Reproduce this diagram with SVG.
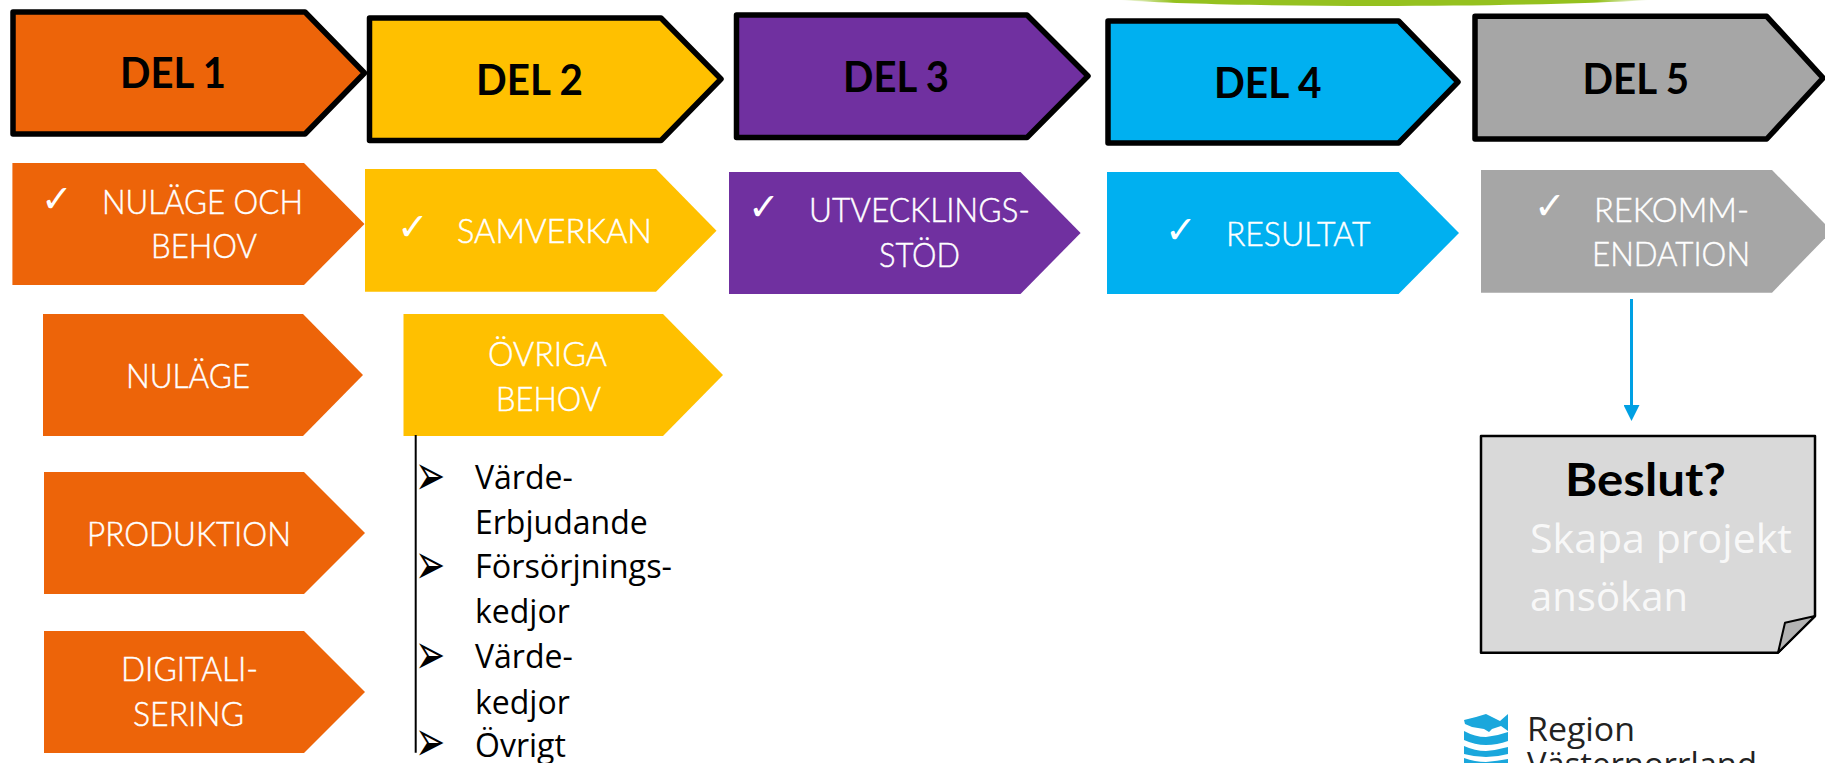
<svg xmlns="http://www.w3.org/2000/svg" width="1825" height="763" viewBox="0 0 1825 763">
<style>
text{font-family:"Lato","Liberation Sans",sans-serif}
.o{fill:#ed6409}.y{fill:#ffc000}.p{fill:#7030a0}.b{fill:#00b0f0}.g{fill:#a6a6a6}
.s{stroke:#000;stroke-width:5.5;stroke-linejoin:round}
.h{font-size:42px;font-weight:700;fill:#000}
.w{font-size:33px;font-weight:300;fill:#fff;stroke:#fff;stroke-width:.45}
.c{font-size:38px;fill:#fff;font-family:"DejaVu Sans",sans-serif}
.l{font-size:32px;fill:#000;font-family:"Open Sans",sans-serif}
.a{font-size:36px;fill:#000;font-family:"DejaVu Sans",sans-serif}
.f{font-size:41px;fill:#f8f8f8;font-family:"Open Sans",sans-serif}
.r{font-size:32px;fill:#222;font-family:"Open Sans",sans-serif}
.wave{fill:#1aa7dc}
</style>
<defs>
<linearGradient id="arc"><stop offset="0" stop-color="#95c11f" stop-opacity="0"/><stop offset=".1" stop-color="#95c11f"/><stop offset=".9" stop-color="#95c11f"/><stop offset="1" stop-color="#95c11f" stop-opacity="0"/></linearGradient>
<marker id="ah" markerUnits="userSpaceOnUse" markerWidth="16" markerHeight="16" refX="0" refY="8" orient="auto"><path d="M0 0L16 8L0 16Z" fill="#00a0e3"/></marker>
</defs>
<rect width="1825" height="763" fill="#fff"/>
<path id="top-arc" d="M1120 0C1230 8 1520 8 1650 0Z" fill="url(#arc)"/>
<g id="del1"><polygon class="o s" points="13,12 305,12 364.5,73 305,134 13,134"/><text class="h" x="120" y="88" textLength="106" lengthAdjust="spacingAndGlyphs">DEL 1</text></g>
<g id="del2"><polygon class="y s" points="369.5,18 661,18 721,79 661,140.5 369.5,140.5"/><text class="h" x="476" y="94.7" textLength="107" lengthAdjust="spacingAndGlyphs">DEL 2</text></g>
<g id="del3"><polygon class="p s" points="736.5,15 1027,15 1088,76 1027,137.5 736.5,137.5"/><text class="h" x="843" y="91.7" textLength="106" lengthAdjust="spacingAndGlyphs">DEL 3</text></g>
<g id="del4"><polygon class="b s" points="1108,21 1398.6,21 1458,82 1398.6,143 1108,143"/><text class="h" x="1214" y="97.7" textLength="107.5" lengthAdjust="spacingAndGlyphs">DEL 4</text></g>
<g id="del5"><polygon class="g s" points="1475,16.3 1766.7,16.3 1823,78 1766.7,139 1475,139"/><text class="h" x="1582.5" y="94" textLength="106.5" lengthAdjust="spacingAndGlyphs">DEL 5</text></g>

<g id="nulage-och-behov"><polygon class="o" points="12.4,163 304,163 364.5,224 304,285 12.4,285"/><text class="c" x="41" y="212">✓</text><text class="w" x="102" y="214" textLength="201" lengthAdjust="spacingAndGlyphs">NULÄGE OCH</text><text class="w" x="151" y="258" textLength="106" lengthAdjust="spacingAndGlyphs">BEHOV</text></g>
<g id="samverkan"><polygon class="y" points="365,169 656,169 716.5,230.7 656,291.7 365,291.7"/><text class="c" x="397" y="240">✓</text><text class="w" x="457" y="242.7" textLength="195" lengthAdjust="spacingAndGlyphs">SAMVERKAN</text></g>
<g id="utvecklingsstod"><polygon class="p" points="729,172 1020.5,172 1080.6,233 1020.5,294 729,294"/><text class="c" x="748" y="220">✓</text><text class="w" x="809" y="222" textLength="221" lengthAdjust="spacingAndGlyphs">UTVECKLINGS-</text><text class="w" x="879" y="267" textLength="81" lengthAdjust="spacingAndGlyphs">STÖD</text></g>
<g id="resultat"><polygon class="b" points="1107,172 1398.6,172 1459,233 1398.6,294 1107,294"/><text class="c" x="1165" y="243">✓</text><text class="w" x="1226" y="245.7" textLength="144.5" lengthAdjust="spacingAndGlyphs">RESULTAT</text></g>
<g id="rekommendation"><polygon class="g" points="1481,170 1772,170 1832,231 1772,292.7 1481,292.7"/><text class="c" x="1534" y="219">✓</text><text class="w" x="1594" y="221.7" textLength="155" lengthAdjust="spacingAndGlyphs">REKOMM-</text><text class="w" x="1592" y="265.7" textLength="158" lengthAdjust="spacingAndGlyphs">ENDATION</text></g>

<g id="nulage"><polygon class="o" points="43,314 303,314 363,375 303,436 43,436"/><text class="w" x="126" y="388" textLength="124" lengthAdjust="spacingAndGlyphs">NULÄGE</text></g>
<g id="produktion"><polygon class="o" points="44,472 304,472 365,533 304,594 44,594"/><text class="w" x="87" y="546" textLength="204" lengthAdjust="spacingAndGlyphs">PRODUKTION</text></g>
<g id="digitalisering"><polygon class="o" points="44,631 304,631 365,692 304,753 44,753"/><text class="w" x="121" y="681" textLength="137" lengthAdjust="spacingAndGlyphs">DIGITALI-</text><text class="w" x="133" y="726" textLength="111" lengthAdjust="spacingAndGlyphs">SERING</text></g>
<g id="ovriga-behov"><polygon class="y" points="403.5,314 663,314 723,375 663,436 403.5,436"/><text class="w" x="488" y="366" textLength="119" lengthAdjust="spacingAndGlyphs">ÖVRIGA</text><text class="w" x="496" y="411" textLength="105" lengthAdjust="spacingAndGlyphs">BEHOV</text></g>

<g id="lista">
<text class="a" transform="translate(415 495) scale(1 1.6)">➢</text><text class="a" transform="translate(415 584) scale(1 1.6)">➢</text><text class="a" transform="translate(415 674) scale(1 1.6)">➢</text><text class="a" transform="translate(415 761) scale(1 1.6)">➢</text>
<text class="l" x="475" y="489">Värde-</text><text class="l" x="475" y="534">Erbjudande</text><text class="l" x="475" y="578" textLength="197" lengthAdjust="spacingAndGlyphs">Försörjnings-</text><text class="l" x="475" y="623">kedjor</text><text class="l" x="475" y="668">Värde-</text><text class="l" x="475" y="714">kedjor</text><text class="l" x="475" y="757">Övrigt</text>
</g>

<g id="connectors">
<line x1="415.7" y1="435" x2="415.7" y2="752.7" stroke="#000" stroke-width="2"/>
<line x1="1631.5" y1="299" x2="1631.5" y2="405" stroke="#00a0e3" stroke-width="3" marker-end="url(#ah)"/>
</g>

<g id="beslut">
<path d="M1481 436H1815V616L1778 652.7H1481Z" fill="#d9d9d9" stroke="#000" stroke-width="2.5" stroke-linejoin="round"/>
<path d="M1815 616L1785 622.7L1778 652.7Z" fill="#b3b3b3" stroke="#000" stroke-width="2" stroke-linejoin="round"/>
<text x="1565" y="496" font-size="46" font-weight="700" fill="#000" textLength="161" lengthAdjust="spacingAndGlyphs">Beslut?</text>
<text class="f" x="1530" y="552.7" textLength="262" lengthAdjust="spacingAndGlyphs">Skapa projekt</text>
<text class="f" x="1530" y="610.7" textLength="158" lengthAdjust="spacingAndGlyphs">ansökan</text>
</g>

<g id="logo">
<path class="wave" d="M1464 720L1476 717L1486 714L1490 716L1500 721L1508 714V731L1501 726L1492 729L1489 732L1484 729L1472 727L1465 724Z"/>
<path class="wave" d="M1464 731Q1475 737 1486 737Q1497 736 1508 732V741Q1497 745 1486 745Q1475 745 1464 740Z"/>
<path class="wave" d="M1464 746Q1475 751 1486 751Q1497 750 1508 747V754Q1497 757 1486 757Q1475 757 1464 754Z"/>
<path class="wave" d="M1464 758Q1475 762 1486 762Q1497 761 1508 759V763H1464Z"/>
<text class="r" x="1527" y="741" textLength="108" lengthAdjust="spacingAndGlyphs">Region</text>
<text class="r" x="1527" y="776" textLength="230" lengthAdjust="spacingAndGlyphs">Västernorrland</text>
</g>
</svg>
